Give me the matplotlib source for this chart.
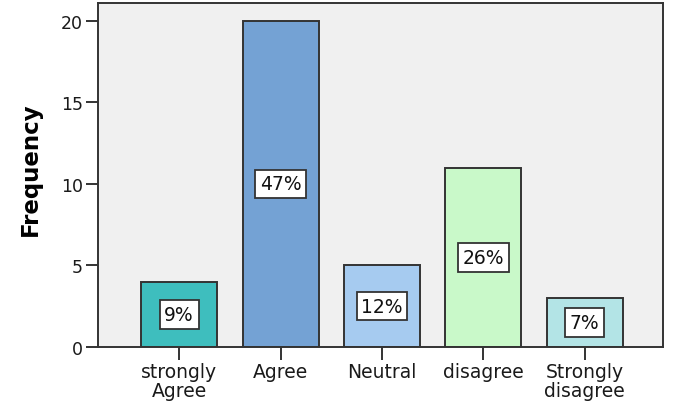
import numpy as np
import matplotlib.pyplot as plt

# Response categories and counts
categories = ["strongly\nAgree", "Agree", "Neutral", "disagree", "Strongly\ndisagree"]
frequency = [4, 20, 5, 11, 3]
percent_labels = ["9%", "47%", "12%", "26%", "7%"]
bar_colors = ["#3EBEBE", "#74A2D4", "#A6CBF0", "#C9F9C9", "#B3E4E6"]

plt.rcParams['font.family'] = ['DejaVu Sans']

fig = plt.figure(figsize=(6.73, 4.06), dpi=100)
ax = fig.add_axes([0.1456, 0.1429, 0.985 - 0.1456, 0.991 - 0.1429])
ax.set_facecolor("#F0F0F0")

x = np.arange(len(categories))
bars = ax.bar(x, frequency, width=0.75, color=bar_colors,
              edgecolor="#333333", linewidth=1.4, zorder=2)

# percentage boxes in the middle of each bar
for xi, val, lab in zip(x, frequency, percent_labels):
    ax.text(xi, val / 2, lab, ha="center", va="center", fontsize=13.5,
            color="#111111", zorder=3,
            bbox=dict(boxstyle="square,pad=0.25", facecolor="white",
                      edgecolor="#333333", linewidth=1.3))

ax.set_xlim(-0.8, 4.77)
ax.set_ylim(0, 21.12)
ax.set_yticks([0, 5, 10, 15, 20])
ax.set_xticks(x)
ax.set_xticklabels(categories, fontsize=13.5, linespacing=0.95, color="#1a1a1a")
ax.tick_params(axis="y", labelsize=12.5, labelcolor="#1a1a1a")
ax.tick_params(direction="out", length=9, width=1.4, color="#333333", pad=2)

for s in ax.spines.values():
    s.set_color("#333333")
    s.set_linewidth(1.4)

ax.set_ylabel("Frequency", fontsize=16.5, fontweight="bold")
ax.yaxis.set_label_coords(-0.1, 0.52)

fig.savefig("out.png", dpi=100)
